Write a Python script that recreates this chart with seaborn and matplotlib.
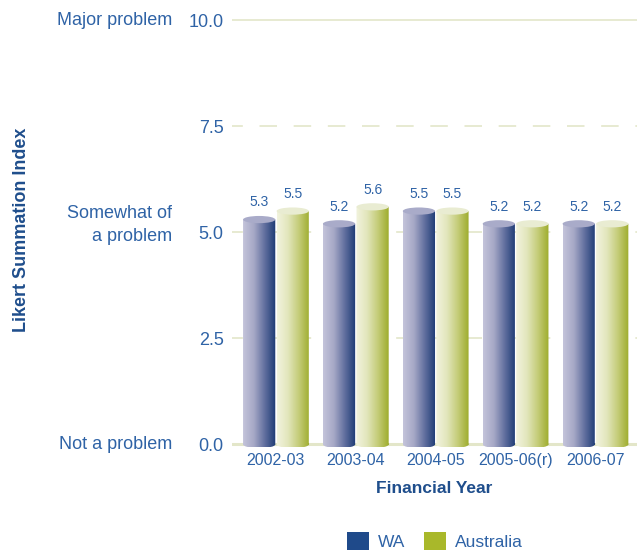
import numpy as np
import pandas as pd
import matplotlib
matplotlib.use("Agg")
import matplotlib.pyplot as plt
from matplotlib.colors import LinearSegmentedColormap
from matplotlib.patches import Ellipse, Patch
from matplotlib.path import Path
from matplotlib.transforms import Affine2D
import seaborn as sns

# Data
years = ["2002-03", "2003-04", "2004-05", "2005-06(r)", "2006-07"]
wa_values = [5.3, 5.2, 5.5, 5.2, 5.2]
aus_values = [5.5, 5.6, 5.5, 5.2, 5.2]
series = ["WA", "Australia"]
y_ticks = [0.0, 2.5, 5.0, 7.5, 10.0]
y_descriptions = {0.0: "Not a problem", 5.0: "Somewhat of\na problem", 10.0: "Major problem"}

df = pd.DataFrame({
    "Financial Year": years * 2,
    "Index": wa_values + aus_values,
    "Region": ["WA"] * len(years) + ["Australia"] * len(years),
})

sns.set_theme(style="white")
plt.rcParams["font.family"] = ["Liberation Sans", "DejaVu Sans"]

TEXT = "#2f63a6"
TITLE = "#1f4e8c"
GRID = "#e3e6c9"
solid_colors = {"WA": "#1f4a8a", "Australia": "#a9b82a"}
cmaps = {
    "WA": LinearSegmentedColormap.from_list("wa", ["#c4c4da", "#a6a8c6", "#606e9e", "#1c3a74"]),
    "Australia": LinearSegmentedColormap.from_list("aus", ["#f2f3de", "#e2e6bc", "#c4cc78", "#9eac2c"]),
}
cap_colors = {"WA": "#a9abc9", "Australia": "#e9ecd2"}

fig = plt.figure(figsize=(6.37, 5.52), dpi=100)
ax = fig.add_axes([232 / 637, 1 - 447 / 552, 405 / 637, (447 - 18) / 552])

sns.barplot(data=df, x="Financial Year", y="Index", hue="Region",
            hue_order=series, palette=solid_colors, order=years,
            width=0.84, gap=0.04, ax=ax, legend=False, errorbar=None,
            zorder=3)

# grid lines
for t in y_ticks:
    if t == 10.0:
        ax.axhline(t, color=GRID, lw=1.2, zorder=1)
    elif t == 0.0:
        ax.axhline(t, color=GRID, lw=2.2, zorder=2)
    else:
        ax.axhline(t, color=GRID, lw=1.2, ls=(4, (10.5, 10)), zorder=1)

# cylinder shading on each bar
cap_h = 0.17
grad = np.linspace(0, 1, 256).reshape(1, -1)
for container, name, vals in zip(ax.containers, series, [wa_values, aus_values]):
    for patch, v in zip(container.patches, vals):
        x0 = patch.get_x()
        w = patch.get_width()
        h = patch.get_height()
        patch.set_facecolor("none")
        patch.set_edgecolor("none")
        im = ax.imshow(grad, cmap=cmaps[name], aspect="auto",
                       extent=[x0, x0 + w, -cap_h / 2, h], zorder=3,
                       interpolation="bilinear")
        clip = Path.make_compound_path(
            Path.unit_rectangle().transformed(Affine2D().scale(w, h).translate(x0, 0)),
            Path.unit_circle().transformed(
                Affine2D().scale(w / 2, cap_h / 2).translate(x0 + w / 2, 0)),
        )
        im.set_clip_path(clip, ax.transData)
        ax.add_patch(Ellipse((x0 + w / 2, h), w, cap_h, facecolor=cap_colors[name],
                             edgecolor="none", zorder=4))
        ax.text(x0 + w / 2, h + 0.24, f"{v:.1f}", ha="center", va="bottom",
                fontsize=10, color=TEXT, zorder=5)

ax.set_xlim(-0.55, 4.52)
ax.set_ylim(-0.06, 10.05)

for s in ax.spines.values():
    s.set_visible(False)

ax.set_yticks(y_ticks)
ax.set_yticklabels([f"{t:.1f}" for t in y_ticks], fontsize=13, color=TEXT)
ax.tick_params(axis="y", length=0, pad=6)
ax.tick_params(axis="x", length=0, pad=4, labelsize=11.5, labelcolor=TEXT)

for t, desc in y_descriptions.items():
    yy = t + 0.17 if "\n" in desc else t
    ax.text(-0.148, yy, desc, transform=ax.get_yaxis_transform(),
            ha="right", va="center", fontsize=13, color=TEXT, linespacing=1.5)

ax.set_xlabel("Financial Year", fontsize=12.5, fontweight="bold", color=TITLE,
              labelpad=10)
ax.set_ylabel("")
fig.text(22 / 637, 1 - 230 / 552, "Likert Summation Index", rotation=90,
         ha="center", va="center", fontsize=13, fontweight="bold", color=TITLE)

handles = [Patch(facecolor=solid_colors[s], edgecolor="none") for s in series]
fig.legend(handles, series, loc="center", bbox_to_anchor=(435 / 637, 1 - 541 / 552),
           ncol=2, frameon=False, fontsize=12.5, handlelength=1.25, handleheight=1.25,
           handletextpad=0.5, columnspacing=1.1, labelcolor=TEXT)

fig.savefig("out.png", dpi=100)
